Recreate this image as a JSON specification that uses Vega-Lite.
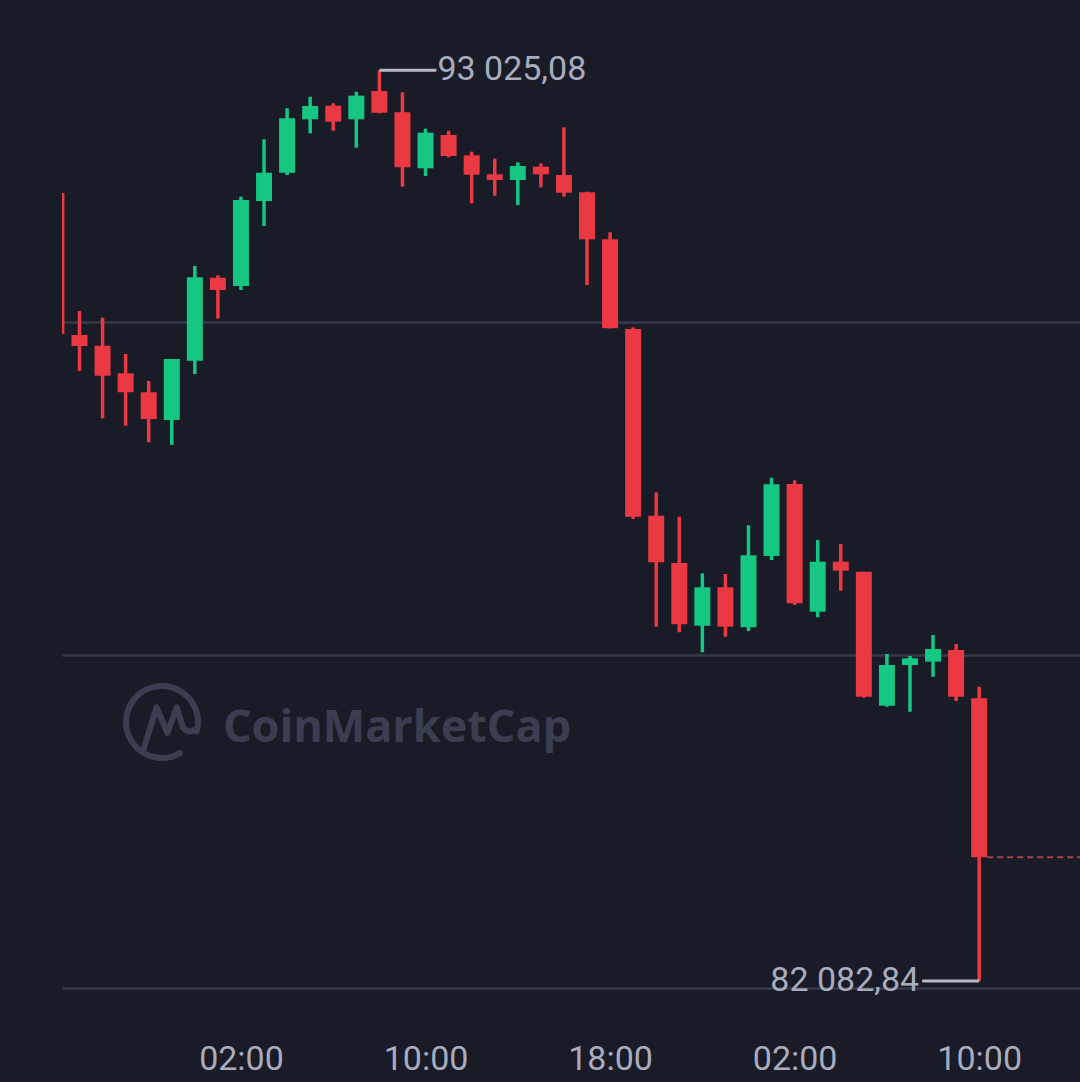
{
  "$schema": "https://vega.github.io/schema/vega-lite/v6.json",
  "autosize": "none",
  "width": 1018,
  "height": 1030,
  "padding": {"left": 62, "top": 0, "right": 0, "bottom": 52},
  "background": "#191b26",
  "config": {"view": {"stroke": null}},
  "datasets": {
    "candles": [
      {"t": "2025-03-03T18:00", "o": 91549, "h": 91549, "l": 89856, "c": 89856},
      {"t": "2025-03-03T19:00", "o": 89844, "h": 90132, "l": 89411, "c": 89712},
      {"t": "2025-03-03T20:00", "o": 89715, "h": 90052, "l": 88843, "c": 89355},
      {"t": "2025-03-03T21:00", "o": 89384, "h": 89616, "l": 88754, "c": 89156},
      {"t": "2025-03-03T22:00", "o": 89156, "h": 89291, "l": 88555, "c": 88835},
      {"t": "2025-03-03T23:00", "o": 88823, "h": 89556, "l": 88523, "c": 89556},
      {"t": "2025-03-04T00:00", "o": 89535, "h": 90673, "l": 89375, "c": 90537},
      {"t": "2025-03-04T01:00", "o": 90532, "h": 90561, "l": 90040, "c": 90384},
      {"t": "2025-03-04T02:00", "o": 90432, "h": 91505, "l": 90384, "c": 91466},
      {"t": "2025-03-04T03:00", "o": 91453, "h": 92195, "l": 91153, "c": 91793},
      {"t": "2025-03-04T04:00", "o": 91793, "h": 92567, "l": 91766, "c": 92447},
      {"t": "2025-03-04T05:00", "o": 92435, "h": 92706, "l": 92267, "c": 92595},
      {"t": "2025-03-04T06:00", "o": 92598, "h": 92627, "l": 92298, "c": 92406},
      {"t": "2025-03-04T07:00", "o": 92435, "h": 92766, "l": 92094, "c": 92719},
      {"t": "2025-03-04T08:00", "o": 92775, "h": 93025.08, "l": 92507, "c": 92514},
      {"t": "2025-03-04T09:00", "o": 92519, "h": 92759, "l": 91625, "c": 91858},
      {"t": "2025-03-04T10:00", "o": 91846, "h": 92322, "l": 91754, "c": 92274},
      {"t": "2025-03-04T11:00", "o": 92246, "h": 92298, "l": 91978, "c": 91994},
      {"t": "2025-03-04T12:00", "o": 92002, "h": 92046, "l": 91426, "c": 91769},
      {"t": "2025-03-04T13:00", "o": 91774, "h": 91962, "l": 91517, "c": 91706},
      {"t": "2025-03-04T14:00", "o": 91706, "h": 91918, "l": 91405, "c": 91874},
      {"t": "2025-03-04T15:00", "o": 91866, "h": 91906, "l": 91618, "c": 91774},
      {"t": "2025-03-04T16:00", "o": 91766, "h": 92339, "l": 91505, "c": 91553},
      {"t": "2025-03-04T17:00", "o": 91558, "h": 91565, "l": 90444, "c": 90993},
      {"t": "2025-03-04T18:00", "o": 90993, "h": 91078, "l": 89924, "c": 89924},
      {"t": "2025-03-04T19:00", "o": 89916, "h": 89936, "l": 87634, "c": 87661},
      {"t": "2025-03-04T20:00", "o": 87673, "h": 87954, "l": 86340, "c": 87114},
      {"t": "2025-03-04T21:00", "o": 87105, "h": 87661, "l": 86273, "c": 86369},
      {"t": "2025-03-04T22:00", "o": 86352, "h": 86981, "l": 86032, "c": 86813},
      {"t": "2025-03-04T23:00", "o": 86813, "h": 86973, "l": 86220, "c": 86340},
      {"t": "2025-03-05T00:00", "o": 86333, "h": 87558, "l": 86288, "c": 87198},
      {"t": "2025-03-05T01:00", "o": 87189, "h": 88130, "l": 87141, "c": 88050},
      {"t": "2025-03-05T02:00", "o": 88054, "h": 88099, "l": 86601, "c": 86621},
      {"t": "2025-03-05T03:00", "o": 86520, "h": 87381, "l": 86453, "c": 87121},
      {"t": "2025-03-05T04:00", "o": 87121, "h": 87333, "l": 86772, "c": 87013},
      {"t": "2025-03-05T05:00", "o": 87001, "h": 87001, "l": 85487, "c": 85499},
      {"t": "2025-03-05T06:00", "o": 85391, "h": 86012, "l": 85379, "c": 85880},
      {"t": "2025-03-05T07:00", "o": 85880, "h": 85988, "l": 85319, "c": 85960},
      {"t": "2025-03-05T08:00", "o": 85920, "h": 86240, "l": 85739, "c": 86072},
      {"t": "2025-03-05T09:00", "o": 86060, "h": 86132, "l": 85447, "c": 85499},
      {"t": "2025-03-05T10:00", "o": 85480, "h": 85619, "l": 82082.84, "c": 83570}
    ],
    "high": [
      {"t": "2025-03-04T08:00", "p": 93025.08, "label": "93 025,08"}
    ],
    "low": [
      {"t": "2025-03-05T10:00", "p": 82082.84, "label": "82 082,84"}
    ],
    "last": [
      {"t": "2025-03-05T10:00", "p": 83570}
    ]
  },
  "layer": [
    {
      "data": {"values": [{}]},
      "mark": {"type": "text", "text": "CoinMarketCap", "font": "Open Sans", "fontWeight": "bold", "fontSize": 45, "color": "#3b3e50", "align": "left", "baseline": "alphabetic"},
      "encoding": {
        "x": {"datum": {"year": 2025, "month": 3, "date": 4, "hours": 1, "minutes": 13}, "type": "temporal",
          "scale": {"domain": [{"year": 2025, "month": 3, "date": 3, "hours": 18, "minutes": 14, "seconds": 31}, {"year": 2025, "month": 3, "date": 5, "hours": 14, "minutes": 22, "seconds": 12}], "padding": 0, "nice": false},
          "axis": {"values": [
            {"year": 2025, "month": 3, "date": 4, "hours": 2},
            {"year": 2025, "month": 3, "date": 4, "hours": 10},
            {"year": 2025, "month": 3, "date": 4, "hours": 18},
            {"year": 2025, "month": 3, "date": 5, "hours": 2},
            {"year": 2025, "month": 3, "date": 5, "hours": 10}
          ], "format": "%H:%M", "title": null, "ticks": false, "domain": false, "grid": false, "labelFont": "Roboto", "labelFontSize": 34, "labelColor": "#a8acbe", "labelPadding": 12, "labelOverlap": false, "labelFlush": false}},
        "y": {"datum": 84955, "type": "quantitative",
          "scale": {"domain": [81495.5, 93867.9], "nice": false, "zero": false, "padding": 0},
          "axis": {"values": [82000, 86000, 90000], "labels": false, "ticks": false, "domain": false, "grid": true, "gridColor": "#363a49", "gridWidth": 2.5, "title": null}}
      }
    },
    {
      "data": {"values": [{}]},
      "mark": {"type": "point", "shape": "M0.5,0.866 A1,1 0 1,1 0.966,0.259 M-0.52,0.78 L-0.15,-0.41 L0.15,0.31 L0.41,-0.41 L0.57,0.13 Q0.7,0.35 0.95,0.2", "filled": false, "size": 5184, "stroke": "#3b3e50", "strokeWidth": 6, "opacity": 1, "strokeCap": "round", "strokeJoin": "round"},
      "encoding": {
        "x": {"datum": {"year": 2025, "month": 3, "date": 3, "hours": 22, "minutes": 34, "seconds": 36}, "type": "temporal"},
        "y": {"datum": 85195, "type": "quantitative"}
      }
    },
    {
      "data": {"name": "candles"},
      "mark": {"type": "rule", "strokeWidth": 3.5, "clip": true},
      "encoding": {
        "x": {"field": "t", "type": "temporal"},
        "y": {"field": "l", "type": "quantitative"},
        "y2": {"field": "h"},
        "color": {"condition": {"test": "datum.c >= datum.o", "value": "#16c784"}, "value": "#ea3943"}
      }
    },
    {
      "data": {"name": "candles"},
      "mark": {"type": "bar", "width": 16, "clip": true},
      "encoding": {
        "x": {"field": "t", "type": "temporal"},
        "y": {"field": "o", "type": "quantitative"},
        "y2": {"field": "c"},
        "color": {"condition": {"test": "datum.c >= datum.o", "value": "#16c784"}, "value": "#ea3943"}
      }
    },
    {
      "data": {"name": "last"},
      "mark": {"type": "rule", "strokeWidth": 2, "strokeDash": [6, 4], "color": "#a9434c", "xOffset": 8, "clip": true},
      "encoding": {
        "x": {"field": "t", "type": "temporal"},
        "x2": {"datum": {"year": 2025, "month": 3, "date": 5, "hours": 14, "minutes": 22, "seconds": 12}},
        "y": {"field": "p", "type": "quantitative"}
      }
    },
    {
      "data": {"name": "high"},
      "mark": {"type": "rule", "strokeWidth": 3, "color": "#b6bac7", "x2Offset": 57},
      "encoding": {
        "x": {"field": "t", "type": "temporal"},
        "x2": {"field": "t"},
        "y": {"field": "p", "type": "quantitative"}
      }
    },
    {
      "data": {"name": "high"},
      "mark": {"type": "text", "font": "Roboto", "fontSize": 34, "color": "#a8acbe", "baseline": "middle", "align": "left", "dx": 58},
      "encoding": {
        "x": {"field": "t", "type": "temporal"},
        "y": {"field": "p", "type": "quantitative"},
        "text": {"field": "label"}
      }
    },
    {
      "data": {"name": "low"},
      "mark": {"type": "rule", "strokeWidth": 3, "color": "#b6bac7", "xOffset": -57},
      "encoding": {
        "x": {"field": "t", "type": "temporal"},
        "x2": {"field": "t"},
        "y": {"field": "p", "type": "quantitative"}
      }
    },
    {
      "data": {"name": "low"},
      "mark": {"type": "text", "font": "Roboto", "fontSize": 34, "color": "#a8acbe", "baseline": "middle", "align": "right", "dx": -60},
      "encoding": {
        "x": {"field": "t", "type": "temporal"},
        "y": {"field": "p", "type": "quantitative"},
        "text": {"field": "label"}
      }
    }
  ]
}
